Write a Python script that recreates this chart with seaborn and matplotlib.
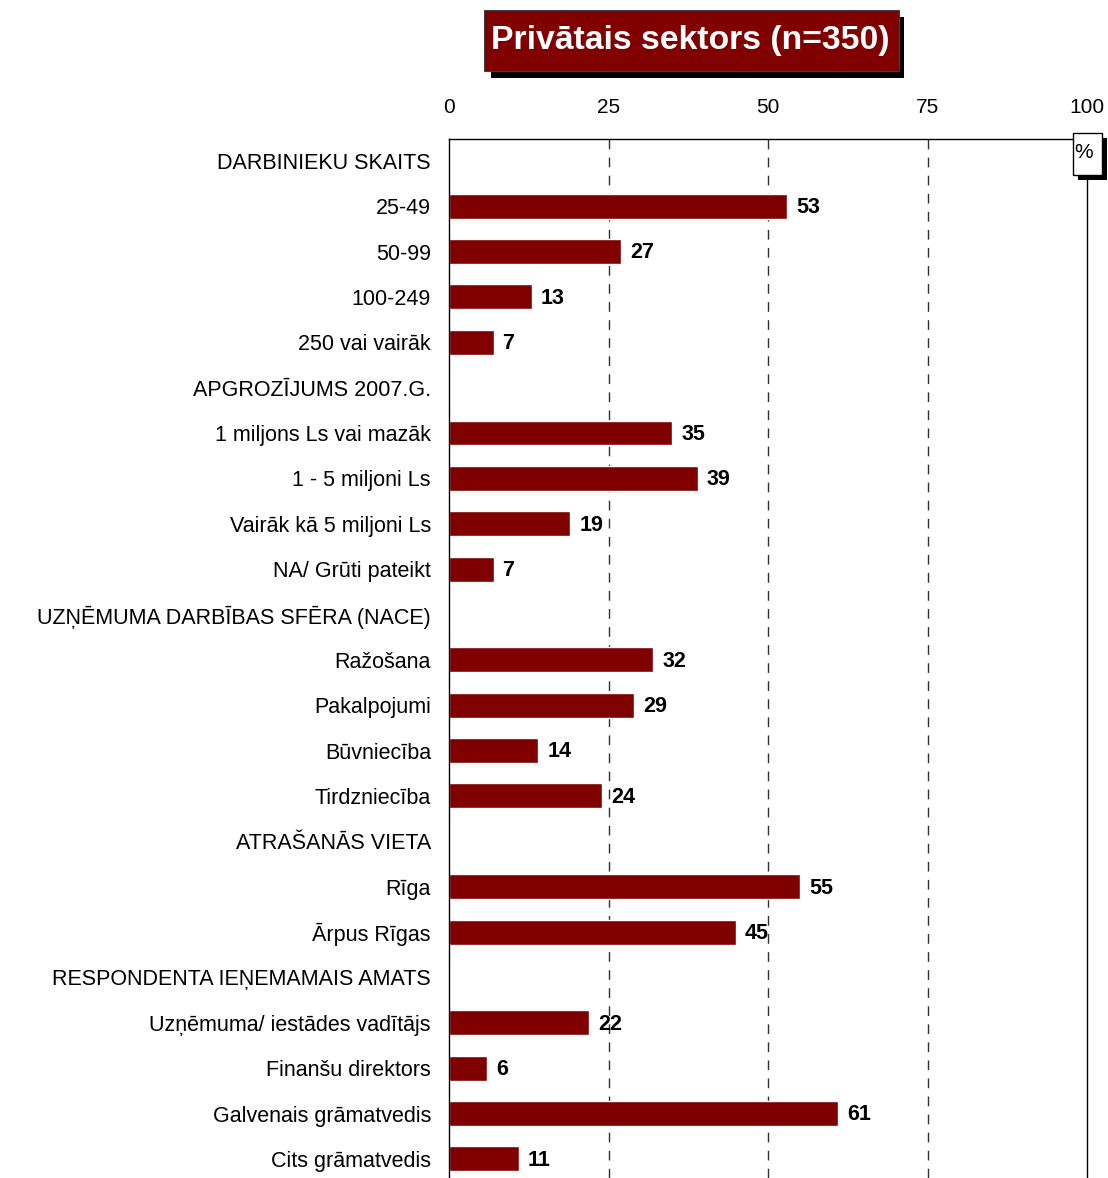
import numpy as np
import pandas as pd
import seaborn as sns
import matplotlib.pyplot as plt
from matplotlib.patches import Rectangle

labels = ['DARBINIEKU SKAITS', '25-49', '50-99', '100-249', '250 vai vairāk',
          'APGROZĪJUMS 2007.G.', '1 miljons Ls vai mazāk', '1 - 5 miljoni Ls',
          'Vairāk kā 5 miljoni Ls', 'NA/ Grūti pateikt',
          'UZŅĒMUMA DARBĪBAS SFĒRA (NACE)', 'Ražošana', 'Pakalpojumi',
          'Būvniecība', 'Tirdzniecība',
          'ATRAŠANĀS VIETA', 'Rīga', 'Ārpus Rīgas',
          'RESPONDENTA IEŅEMAMAIS AMATS', 'Uzņēmuma/ iestādes vadītājs',
          'Finanšu direktors', 'Galvenais grāmatvedis', 'Cits grāmatvedis']
values = [np.nan, 53, 27, 13, 7,
          np.nan, 35, 39, 19, 7,
          np.nan, 32, 29, 14, 24,
          np.nan, 55, 45,
          np.nan, 22, 6, 61, 11]
ticks = [0, 25, 50, 75, 100]
title = 'Privātais sektors (n=350)'

df = pd.DataFrame({'label': labels, 'value': values})

sns.set_style('white')
plt.rcParams['font.family'] = ['Liberation Sans', 'DejaVu Sans']
plt.rcParams['text.color'] = 'black'
plt.rcParams['xtick.color'] = 'black'
plt.rcParams['ytick.color'] = 'black'

fig = plt.figure(figsize=(11.08, 11.78), dpi=100)
W, H = 1108, 1178
ax = fig.add_axes([449 / W, 0, (1087 - 449) / W, (1178 - 139) / H])

sns.barplot(data=df, x='value', y='label', order=labels, color='#800000',
            saturation=1, width=0.55, orient='h', ax=ax)

for i, v in enumerate(values):
    if not np.isnan(v):
        ax.text(v + 1.4, i + 0.03, '%d' % v, va='center', ha='left',
                fontsize=15.5, fontweight='bold', color='black')

ax.set_xlim(0, 100)
ax.set_ylim(22.42, -0.48)
ax.xaxis.tick_top()
ax.set_xticks(ticks)
ax.set_xticklabels([str(t) for t in ticks], fontsize=15)
ax.tick_params(axis='x', length=0, pad=16)
ax.tick_params(axis='y', length=0, pad=13, labelsize=15.5)
ax.set_xlabel('')
ax.set_ylabel('')
for t in [25, 50, 75]:
    ax.axvline(t, color='#303030', linestyle=(0, (7, 6)), linewidth=1, zorder=0)
for s in ['top', 'left', 'right']:
    ax.spines[s].set_visible(True)
    ax.spines[s].set_color('black')
    ax.spines[s].set_linewidth(1)
ax.spines['bottom'].set_visible(False)

# title box with shadow
fig.patches.append(Rectangle((491 / W, 1 - 78 / H), (904 - 491) / W, (78 - 17) / H,
                             transform=fig.transFigure, facecolor='black',
                             edgecolor='none', zorder=5))
fig.patches.append(Rectangle((484 / W, 1 - 71 / H), (899 - 484) / W, (71 - 10) / H,
                             transform=fig.transFigure, facecolor='#800000',
                             edgecolor='#404040', linewidth=0.8, zorder=6))
fig.text(690 / W, 1 - 40 / H, title, ha='center', va='center',
         fontsize=24.3, fontweight='bold', color='white', zorder=7)

# percent box with shadow
fig.patches.append(Rectangle((1078 / W, 1 - 180 / H), (1107 - 1078) / W, (180 - 138) / H,
                             transform=fig.transFigure, facecolor='black',
                             edgecolor='none', zorder=5))
fig.patches.append(Rectangle((1073 / W, 1 - 175 / H), (1102 - 1073) / W, (175 - 133) / H,
                             transform=fig.transFigure, facecolor='white',
                             edgecolor='black', linewidth=1, zorder=6))
fig.text(1084 / W, 1 - 152 / H, '%', ha='center', va='center',
         fontsize=15, color='black', zorder=7)

fig.savefig('out.png', dpi=100)
